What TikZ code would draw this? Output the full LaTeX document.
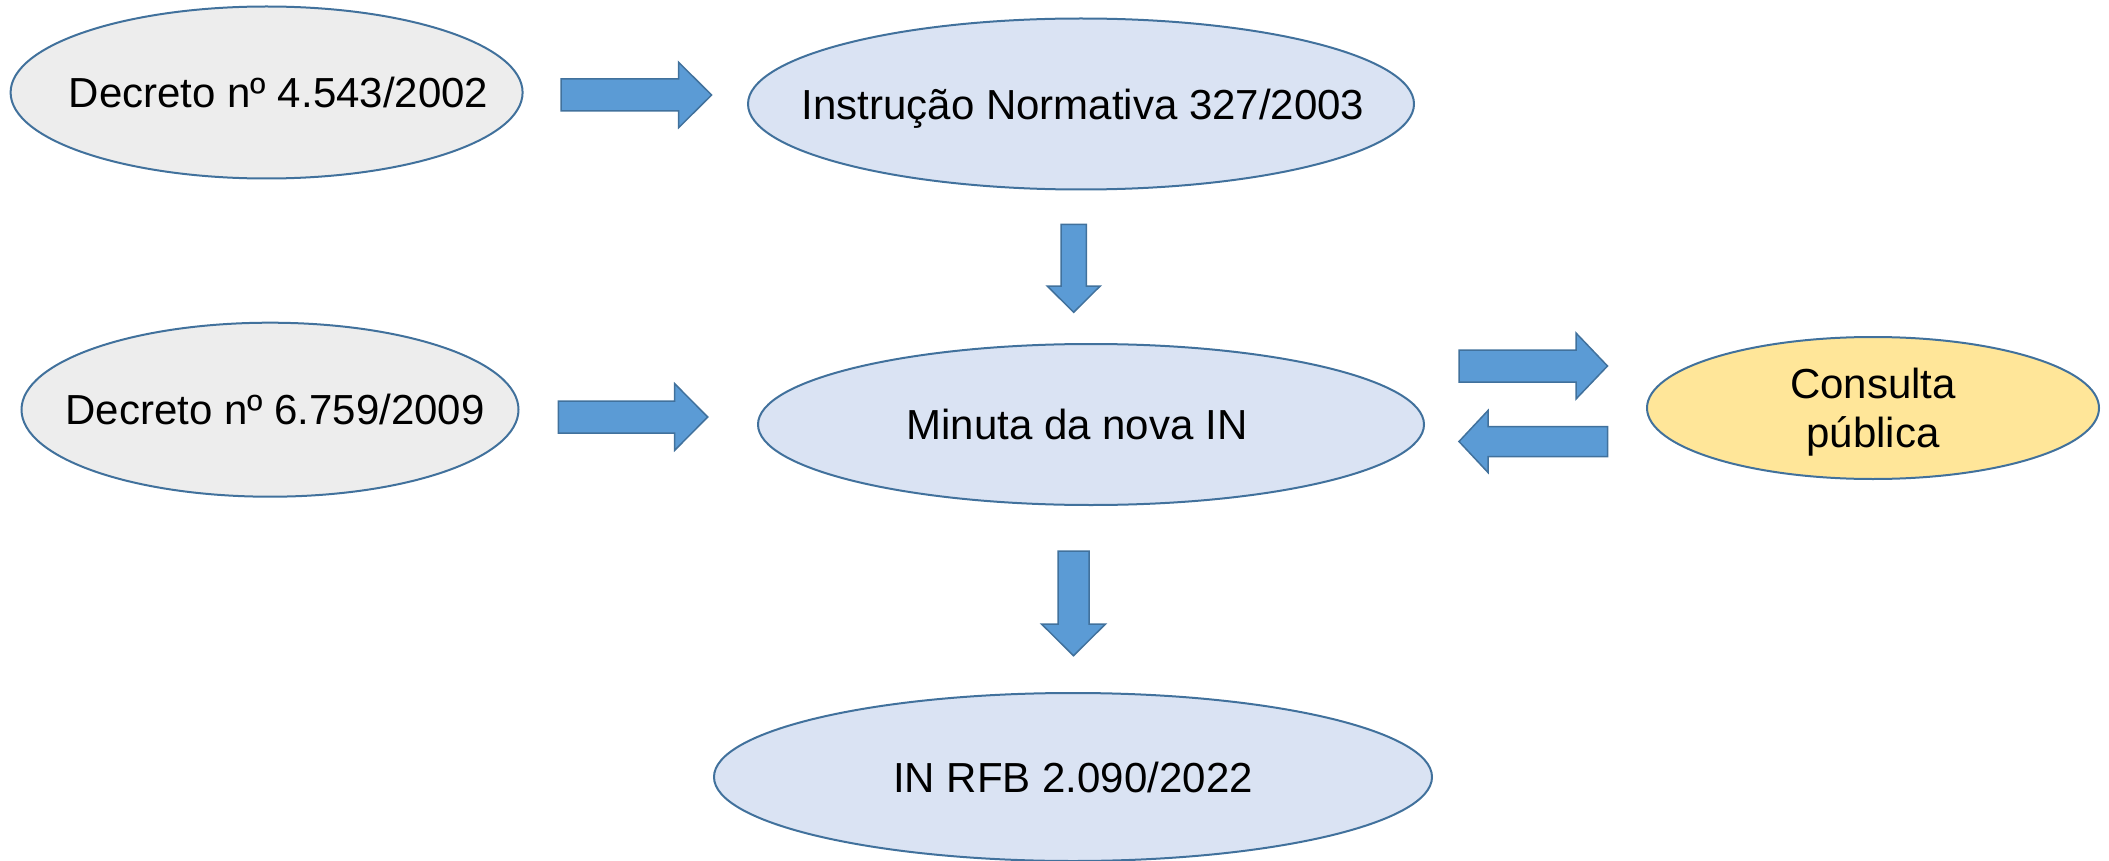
\documentclass[tikz,border=0pt]{standalone}
\usepackage{fontspec}
\setmainfont{Liberation Sans}
\usetikzlibrary{shapes.geometric}
\definecolor{edgec}{HTML}{41719C}
\definecolor{gfill}{HTML}{EDEDED}
\definecolor{bfill}{HTML}{DAE3F3}
\definecolor{yfill}{HTML}{FFE699}
\definecolor{afill}{HTML}{5B9BD5}
\tikzset{
  baseel/.style={ellipse, draw=edgec, line width=2pt, inner sep=0pt, align=center,
    text depth=0pt, font=\fontsize{42}{49}\selectfont},
  grayel/.style={baseel, fill=gfill},
  blueel/.style={baseel, fill=bfill},
  yellowel/.style={baseel, fill=yfill},
  blockarrow/.style={fill=afill, draw=edgec, line width=1.5pt, line join=miter}
}
% text of zero width, centred at a horizontal offset #1 from the node centre
\newcommand\shiftedtext[2]{\makebox[0pt][l]{\kern#1\makebox[0pt]{#2}}}
% horizontal block arrow: tail x, head-base x, tip x, y centre, shaft half, head half
\newcommand\blockH[6]{%
  \filldraw[blockarrow] (#1,#4-#5) -- (#2,#4-#5) -- (#2,#4-#6) -- (#3,#4)
    -- (#2,#4+#6) -- (#2,#4+#5) -- (#1,#4+#5) -- cycle;}
% vertical block arrow: x centre, top y, head-base y, tip y, shaft half, head half
\newcommand\blockV[6]{%
  \filldraw[blockarrow] (#1-#5,#2) -- (#1-#5,#3) -- (#1-#6,#3) -- (#1,#4)
    -- (#1+#6,#3) -- (#1+#5,#3) -- (#1+#5,#2) -- cycle;}
\begin{document}
\begin{tikzpicture}[x=1pt, y=-1pt]
\useasboundingbox (0,0) rectangle (2109,861);

\node[grayel, minimum width=512pt, minimum height=172pt] (d1) at (266.6,92.5) {\shiftedtext{12pt}{Decreto nº 4.543/2002}};
\node[blueel, minimum width=666pt, minimum height=171pt] (in327) at (1081,104) {\shiftedtext{2pt}{Instrução Normativa 327/2003}};
\node[grayel, minimum width=497pt, minimum height=174pt] (d2) at (270,409.7) {\shiftedtext{5pt}{Decreto nº 6.759/2009}};
\node[blueel, minimum width=666pt, minimum height=161pt] (min) at (1091,424.5) {\shiftedtext{-14pt}{Minuta da nova IN}};
\node[yellowel, minimum width=452pt, minimum height=142pt] (cp) at (1873,408) {Consulta\\pública};
\node[blueel, minimum width=718pt, minimum height=168pt] (rfb) at (1073,777) {\shiftedtext{0pt}{IN RFB 2.090/2022}};

\blockH{561}{678.6}{711.6}{95}{16}{32.7}
\blockH{558.4}{674.7}{707.7}{417}{16}{33.3}
\blockH{1459}{1576}{1607.5}{366}{16}{33}
\blockH{1607.5}{1488}{1459}{441.5}{15}{31}
\blockV{1073.7}{224.3}{286}{312.3}{12.7}{26.5}
\blockV{1073.5}{551}{624}{655.7}{15.5}{32}
\end{tikzpicture}
\end{document}
